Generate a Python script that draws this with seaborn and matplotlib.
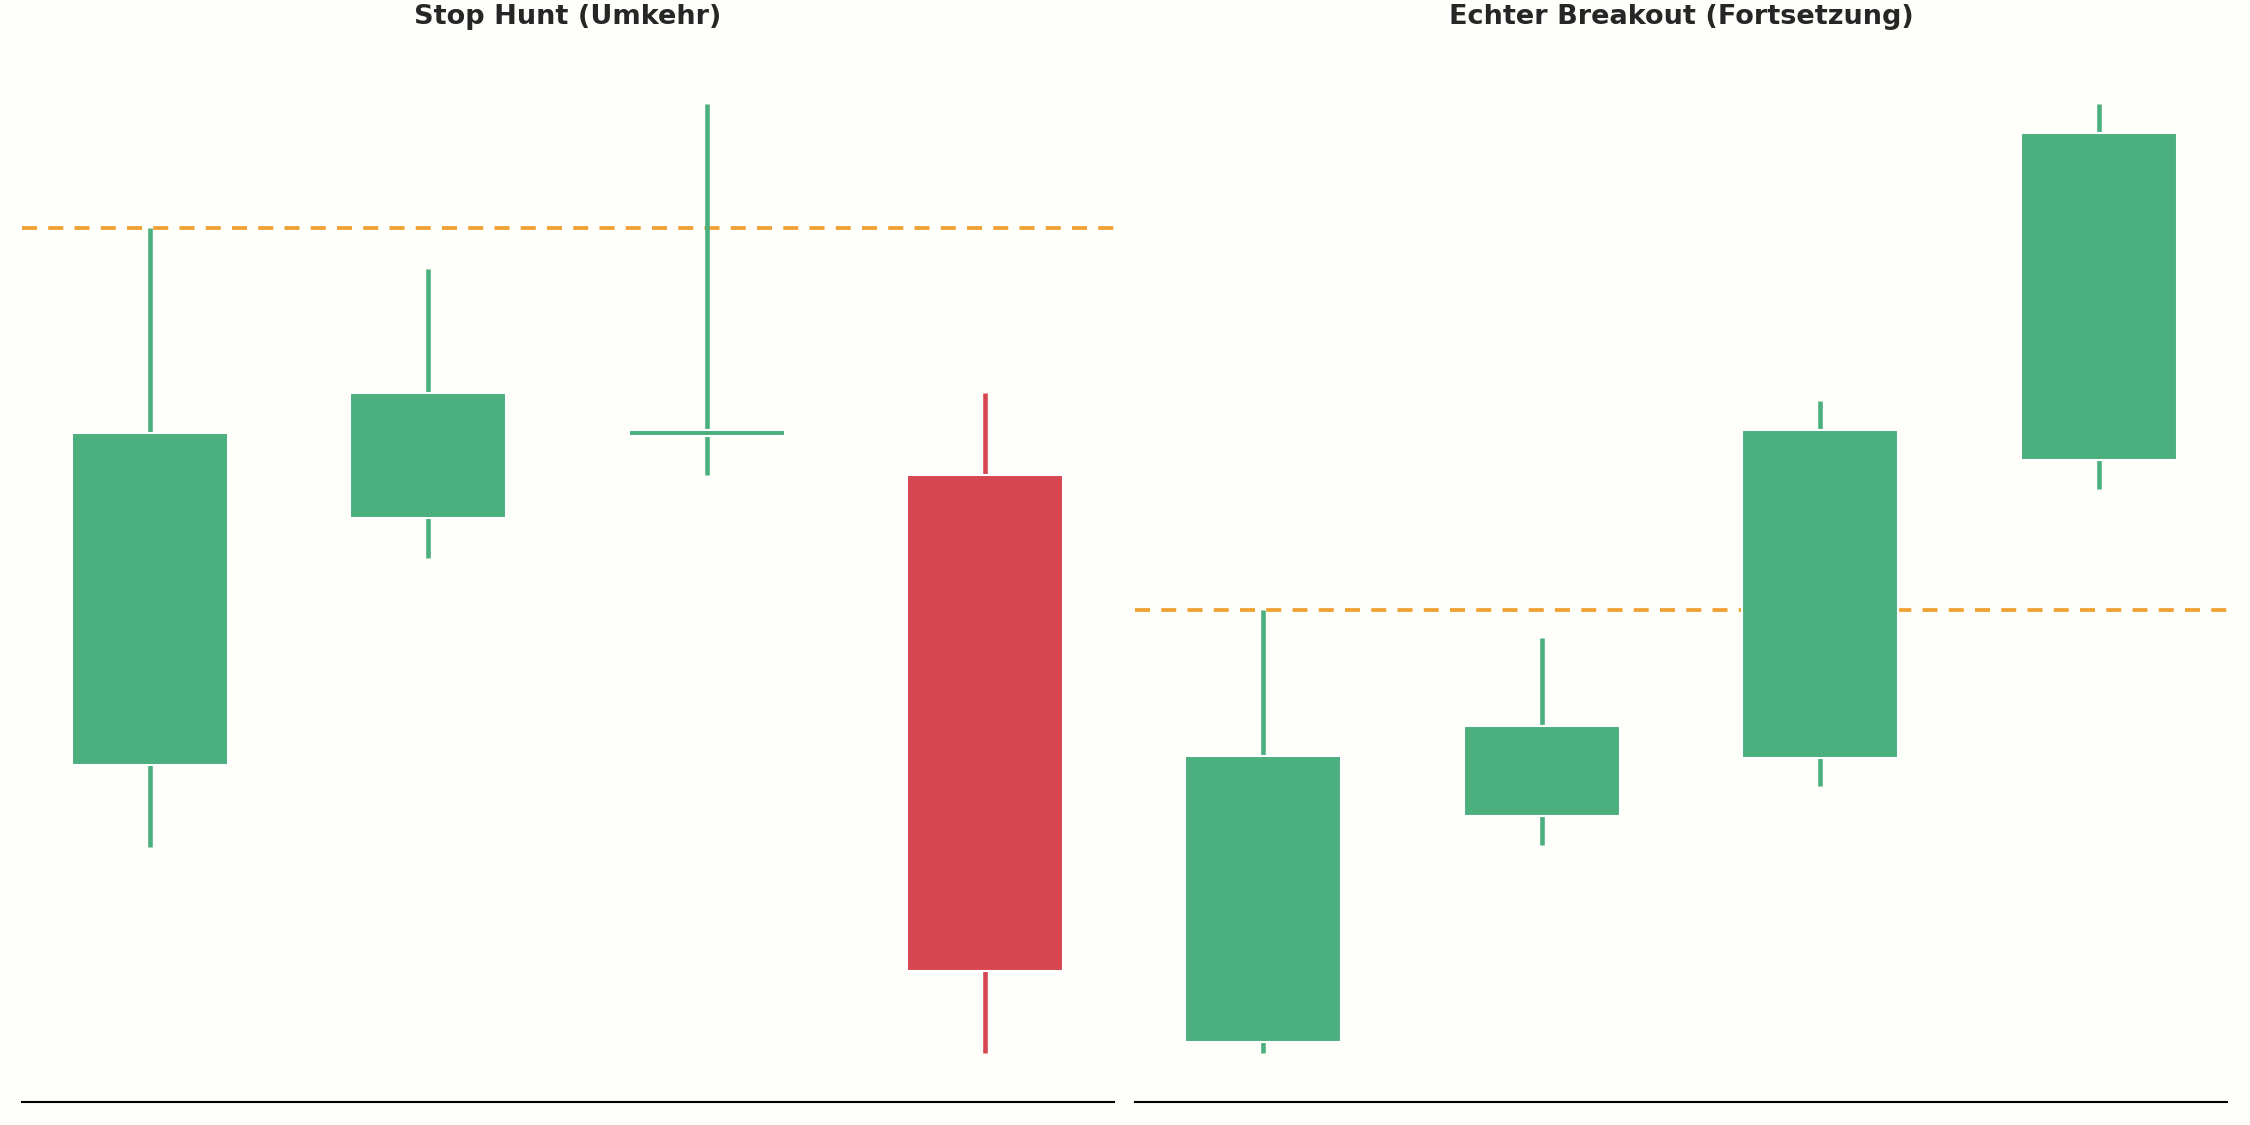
import matplotlib
matplotlib.use("Agg")
import matplotlib.pyplot as plt
import seaborn as sns

# Stop hunt panel
hunt_open = [26.7, 43.9, 49.8, 46.9]
hunt_close = [49.8, 52.6, 49.8, 12.3]
hunt_high = [64.1, 61.2, 72.7, 52.6]
hunt_low = [21.0, 41.1, 46.9, 6.6]
hunt_level = 64.1

# Real breakout panel
brk_open = [7.4, 23.1, 27.2, 47.9]
brk_close = [27.3, 29.4, 50.0, 70.7]
brk_high = [37.5, 35.5, 52.0, 72.7]
brk_low = [6.6, 21.1, 25.2, 45.9]
brk_level = 37.5

titles = ["Stop Hunt (Umkehr)", "Echter Breakout (Fortsetzung)"]

GREEN = "#4caf7e"
RED = "#d64550"
ORANGE = "#f0a030"
BG = "#fefefa"

sns.set_theme(style="white")
plt.rcParams["font.family"] = ["DejaVu Sans"]


def draw(ax, o, c, h, l, level, title):
    ax.set_facecolor(BG)
    for i in range(len(o)):
        col = GREEN if c[i] >= o[i] else RED
        ax.vlines(i, l[i], h[i], color=col, linewidth=2.2, zorder=2)
        lo, hi = min(o[i], c[i]), max(o[i], c[i])
        height = max(hi - lo, 0.4)
        ax.bar(i, height, bottom=lo - (height - (hi - lo)) / 2, width=0.56,
               color=col, zorder=3)
    ax.axhline(level, color=ORANGE, linestyle=(0, (4, 3)), linewidth=1.8,
               zorder=1)
    ax.set_xlim(-0.46, 3.46)
    ax.set_ylim(3.2, 76)
    ax.set_xticks([])
    ax.set_yticks([])
    for s in ("top", "left", "right"):
        ax.spines[s].set_visible(False)
    ax.spines["bottom"].set_color("black")
    ax.spines["bottom"].set_linewidth(1.0)
    ax.set_title(title, fontsize=13, fontweight="bold", pad=16)


fig = plt.figure(figsize=(15, 7.5), dpi=150, facecolor=BG)
ax1 = fig.add_axes([0.0096, 0.0204, 0.4853, 0.929])
ax2 = fig.add_axes([0.5045, 0.0204, 0.4853, 0.929])
draw(ax1, hunt_open, hunt_close, hunt_high, hunt_low, hunt_level, titles[0])
draw(ax2, brk_open, brk_close, brk_high, brk_low, brk_level, titles[1])

fig.savefig("out.png", dpi=150, facecolor=BG)
